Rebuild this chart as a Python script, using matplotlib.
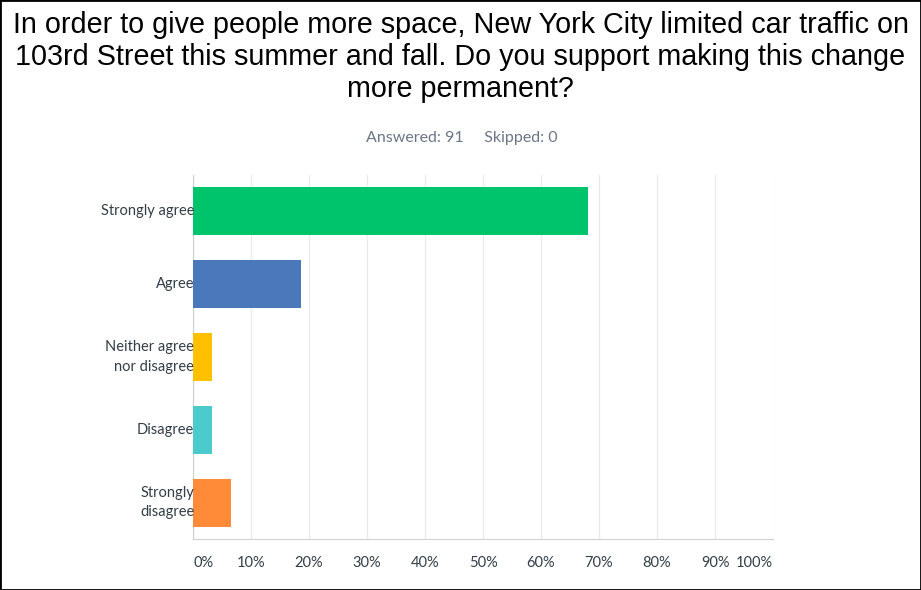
import matplotlib.pyplot as plt
from matplotlib.patches import Rectangle

# Survey answers (share of 91 respondents)
categories = ['Strongly agree', 'Agree', 'Neither agree\nnor disagree', 'Disagree', 'Strongly\ndisagree']
percent = [68.13, 18.68, 3.30, 3.30, 6.59]
colors = ['#00c46b', '#4a78ba', '#ffc000', '#4ccbcd', '#ff8a38']
xticks = [0, 10, 20, 30, 40, 50, 60, 70, 80, 90, 100]
xtick_labels = ['0%', '10%', '20%', '30%', '40%', '50%', '60%', '70%', '80%', '90%', '100%']

title = ('In order to give people more space, New York City limited car traffic on\n'
         '103rd Street this summer and fall. Do you support making this change\n'
         'more permanent?')
subtitle = 'Answered: 91     Skipped: 0'

fig = plt.figure(figsize=(9.21, 5.90), dpi=100)
ax = fig.add_axes([193 / 921, 1 - 539 / 590, 580 / 921, 364 / 590])

ypos = list(range(len(categories)))
ax.barh(ypos, percent, height=0.66, color=colors, zorder=3)

ax.set_xlim(0, 100)
ax.set_ylim(4.5, -0.5)
ax.set_xticks(xticks)
ax.set_xticklabels([])
ax.grid(axis='x', color='#ebebeb', linewidth=1, zorder=0)
ax.tick_params(length=0)
for side in ['top', 'right']:
    ax.spines[side].set_visible(False)
ax.spines['left'].set_color('#d0d0d0')
ax.spines['bottom'].set_color('#d0d0d0')

ax.set_yticks(ypos)
ax.set_yticklabels([])
tick_color = '#333e48'
for y, lab in zip(ypos, categories):
    ax.text(0.2, y, lab, ha='right', va='center', fontsize=10.5, family='Lato',
            color=tick_color, linespacing=1.5, zorder=5)

# x tick labels: first left aligned, last right aligned, rest centred
for i, (x, lab) in enumerate(zip(xticks, xtick_labels)):
    ha = 'left' if i == 0 else ('right' if i == len(xticks) - 1 else 'center')
    ax.text(x, 4.5 + 0.33, lab, ha=ha, va='center', fontsize=10.5, family='Lato',
            color=tick_color)

fig.text(0.5, 1 - 57 / 590, title, ha='center', va='center', fontsize=20.7,
         family='Liberation Sans', color='black', linespacing=1.2)
fig.text(462 / 921, 1 - 138 / 590, subtitle, ha='center', va='center', fontsize=11.5,
         family='Lato', color='#6b7787')

fig.patches.append(Rectangle((0, 0), 1, 1, transform=fig.transFigure, fill=False,
                             edgecolor='black', linewidth=2))

fig.savefig('out.png', dpi=100)
